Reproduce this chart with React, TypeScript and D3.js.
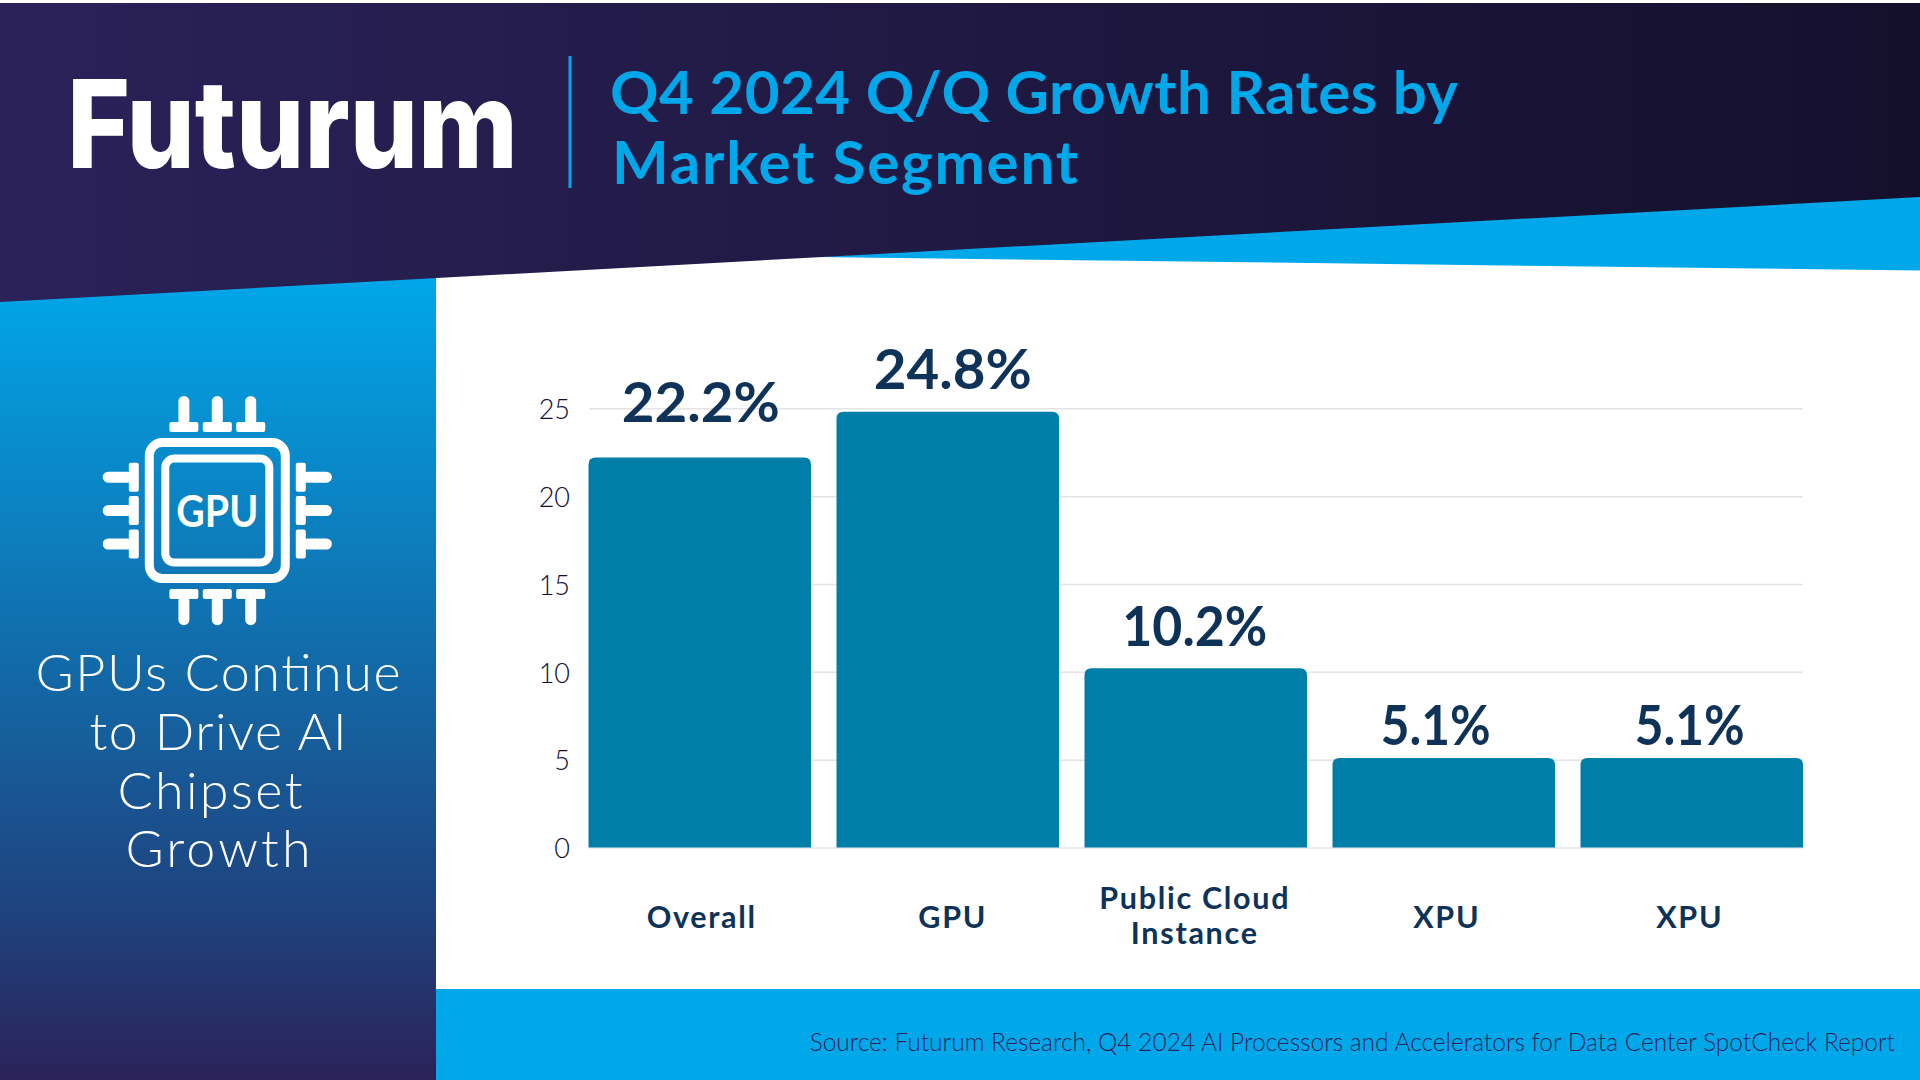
import React, { useEffect, useRef } from 'react';
import * as d3 from 'd3';

const categories = ['Overall', 'GPU', 'Public Cloud|Instance', 'XPU', 'XPU 2'];
const growthValues = [22.2, 24.8, 10.2, 5.1, 5.1];
const yTicks = [0, 5, 10, 15, 20, 25];
const titleLines = ['Q4 2024 Q/Q Growth Rates by', 'Market Segment'];
const panelLines = ['GPUs Continue', 'to Drive AI', 'Chipset', 'Growth'];
const sourceText = 'Source: Futurum Research, Q4 2024 AI Processors and Accelerators for Data Center SpotCheck Report';

const WIDTH = 1920;
const HEIGHT = 1080;
const FONT = 'Lato, "Noto Sans", sans-serif';
const BLUE = '#00a8ea';
const NAVY = '#0f3358';

// the labels in the picture are hand placed, they don't sit exactly over the bars
const valueNudge = [
  { dx: 1, dy: -35, w: 158 },
  { dx: 5, dy: -23, w: 158 },
  { dx: -1, dy: -22, w: 145 },
  { dx: -8, dy: -13, w: 110 },
  { dx: -2, dy: -13, w: 110 },
];
const categoryNudge = [2, 5, -1, 3, -2];
const panelWidths = [365, 257, 185, 185];

function App() {
  const svgRef = useRef<SVGSVGElement>(null);

  useEffect(() => {
    if (!svgRef.current) return;
    const svg = d3.select(svgRef.current);
    svg.selectAll('*').remove();

    const defs = svg.append('defs');
    const headerGrad = defs.append('linearGradient').attr('id', 'headerGrad');
    headerGrad.append('stop').attr('offset', '0%').attr('stop-color', '#2a2259');
    headerGrad.append('stop').attr('offset', '100%').attr('stop-color', '#14102c');
    const panelGrad = defs.append('linearGradient').attr('id', 'panelGrad')
      .attr('x1', 0).attr('x2', 0).attr('y1', 0).attr('y2', 1);
    panelGrad.append('stop').attr('offset', '0%').attr('stop-color', BLUE);
    panelGrad.append('stop').attr('offset', '78%').attr('stop-color', '#1e4480');
    panelGrad.append('stop').attr('offset', '100%').attr('stop-color', '#2b2259');

    // Background shapes
    svg.append('rect').attr('width', WIDTH).attr('height', HEIGHT).attr('fill', '#fff');
    svg.append('rect').attr('x', 0).attr('y', 270).attr('width', 436).attr('height', 810).attr('fill', 'url(#panelGrad)');
    svg.append('path').attr('d', 'M816,257L1920,190L1920,270.5Z').attr('fill', BLUE);
    svg.append('path').attr('d', `M0,3L${WIDTH},3L${WIDTH},197L0,302Z`).attr('fill', 'url(#headerGrad)');
    svg.append('rect').attr('x', 436).attr('y', 989).attr('width', 1484).attr('height', 91).attr('fill', BLUE);

    // Logo and title
    svg.append('text')
      .attr('x', 67).attr('y', 168)
      .attr('textLength', 451).attr('lengthAdjust', 'spacingAndGlyphs')
      .style('font-family', 'Inter, Lato, sans-serif').style('font-size', '122px').style('font-weight', 800)
      .style('fill', '#fff')
      .text('Futurum');
    svg.append('rect').attr('x', 568.5).attr('y', 56).attr('width', 3).attr('height', 132).attr('fill', BLUE);
    svg.append('text').selectAll('tspan')
      .data(titleLines)
      .enter().append('tspan')
      .attr('x', (d, i) => (i === 0 ? 610 : 612))
      .attr('y', (d, i) => (i === 0 ? 114 : 184))
      .attr('textLength', (d, i) => (i === 0 ? 848 : 466))
      .style('font-family', FONT).style('font-size', '60px').style('font-weight', 700)
      .style('fill', BLUE)
      .text(d => d);

    // Chip icon
    const chip = svg.append('g').attr('transform', 'translate(217.3,510.6)');
    [0, 90, 180, 270].forEach(angle => {
      const side = chip.append('g').attr('transform', `rotate(${angle})`);
      [-33.4, 0, 33.4].forEach(offset => {
        side.append('rect').attr('x', offset - 5.5).attr('y', -114.6).attr('width', 11).attr('height', 30).attr('rx', 5.5).attr('fill', '#fff');
        side.append('rect').attr('x', offset - 14.5).attr('y', -88.5).attr('width', 29).attr('height', 10).attr('rx', 2).attr('fill', '#fff');
      });
    });
    chip.append('rect').attr('x', -68).attr('y', -68).attr('width', 136).attr('height', 136).attr('rx', 13)
      .attr('fill', 'none').attr('stroke', '#fff').attr('stroke-width', 9);
    chip.append('rect').attr('x', -52).attr('y', -52).attr('width', 104).attr('height', 104).attr('rx', 9)
      .attr('fill', 'none').attr('stroke', '#fff').attr('stroke-width', 8);
    chip.append('text')
      .attr('y', 16).attr('text-anchor', 'middle')
      .attr('textLength', 82).attr('lengthAdjust', 'spacingAndGlyphs')
      .style('font-family', FONT).style('font-size', '44px').style('font-weight', 700)
      .style('fill', '#fff')
      .text('GPU');

    // Left panel text
    svg.append('g').selectAll('text')
      .data(panelLines)
      .enter().append('text')
      .attr('x', (d, i) => (i === 2 ? 210 : 218))
      .attr('y', (d, i) => 691 + i * 58.8)
      .attr('text-anchor', 'middle')
      .attr('textLength', (d, i) => panelWidths[i])
      .style('font-family', FONT).style('font-size', '52px').style('font-weight', 300)
      .style('fill', '#fff')
      .text(d => d);

    // Scales
    const xScale = d3.scaleBand()
      .domain(categories)
      .range([588.5, 1803])
      .paddingInner(25.5 / 248)
      .paddingOuter(0);
    const yScale = d3.scaleLinear().domain([0, 25]).range([847.5, 408.3]);

    // Y axis with gridlines
    const yAxis = svg.append('g')
      .attr('transform', 'translate(589,0)')
      .call(
        d3.axisLeft(yScale)
          .tickValues(yTicks)
          .tickSize(-(1803 - 589))
          .tickPadding(19)
      );
    yAxis.select('.domain').remove();
    yAxis.selectAll('.tick line').attr('stroke', '#e4e4e6').attr('stroke-width', 1.5);
    yAxis.selectAll('.tick text')
      .attr('dy', '0.38em')
      .style('font-family', FONT).style('font-size', '27px').style('font-weight', 300)
      .style('fill', '#120c35');

    // Bars, rounded on top only
    svg.selectAll('.bar')
      .data(growthValues)
      .enter().append('path')
      .attr('class', 'bar')
      .attr('fill', '#017ea8')
      .attr('d', (d, i) => {
        const x0 = xScale(categories[i]) || 0;
        const x1 = x0 + xScale.bandwidth();
        const top = yScale(d);
        const base = yScale(0);
        const r = 7;
        return `M${x0},${base}L${x0},${top + r}Q${x0},${top} ${x0 + r},${top}L${x1 - r},${top}Q${x1},${top} ${x1},${top + r}L${x1},${base}Z`;
      });

    // Value labels
    svg.selectAll('.label')
      .data(growthValues)
      .enter().append('text')
      .attr('class', 'label')
      .attr('x', (d, i) => (xScale(categories[i]) || 0) + xScale.bandwidth() / 2 + valueNudge[i].dx)
      .attr('y', (d, i) => yScale(d) + valueNudge[i].dy)
      .attr('text-anchor', 'middle')
      .attr('textLength', (d, i) => valueNudge[i].w)
      .attr('lengthAdjust', 'spacingAndGlyphs')
      .style('font-family', FONT).style('font-size', '56px').style('font-weight', 700)
      .style('fill', NAVY)
      .text(d => `${d}%`);

    // Category labels
    categories.forEach((cat, i) => {
      const lines = cat.replace(' 2', '').split('|');
      const cx = (xScale(cat) || 0) + xScale.bandwidth() / 2 + categoryNudge[i];
      lines.forEach((line, j) => {
        svg.append('text')
          .attr('x', cx)
          .attr('y', lines.length > 1 ? 909 + j * 35 : 927.5)
          .attr('text-anchor', 'middle')
          .style('font-family', FONT).style('font-size', '30.5px').style('font-weight', 700)
          .style('letter-spacing', '1.7px')
          .style('fill', NAVY)
          .text(line);
      });
    });

    // Source line
    svg.append('text')
      .attr('x', 1895).attr('y', 1051)
      .attr('text-anchor', 'end')
      .style('font-family', FONT).style('font-size', '24.5px').style('font-weight', 300)
      .style('fill', '#2a2259')
      .text(sourceText);
  }, []);

  return (
    <svg
      ref={svgRef}
      width={WIDTH}
      height={HEIGHT}
      style={{ position: 'absolute', left: 0, top: 0 }}
    ></svg>
  );
}

export default App;
